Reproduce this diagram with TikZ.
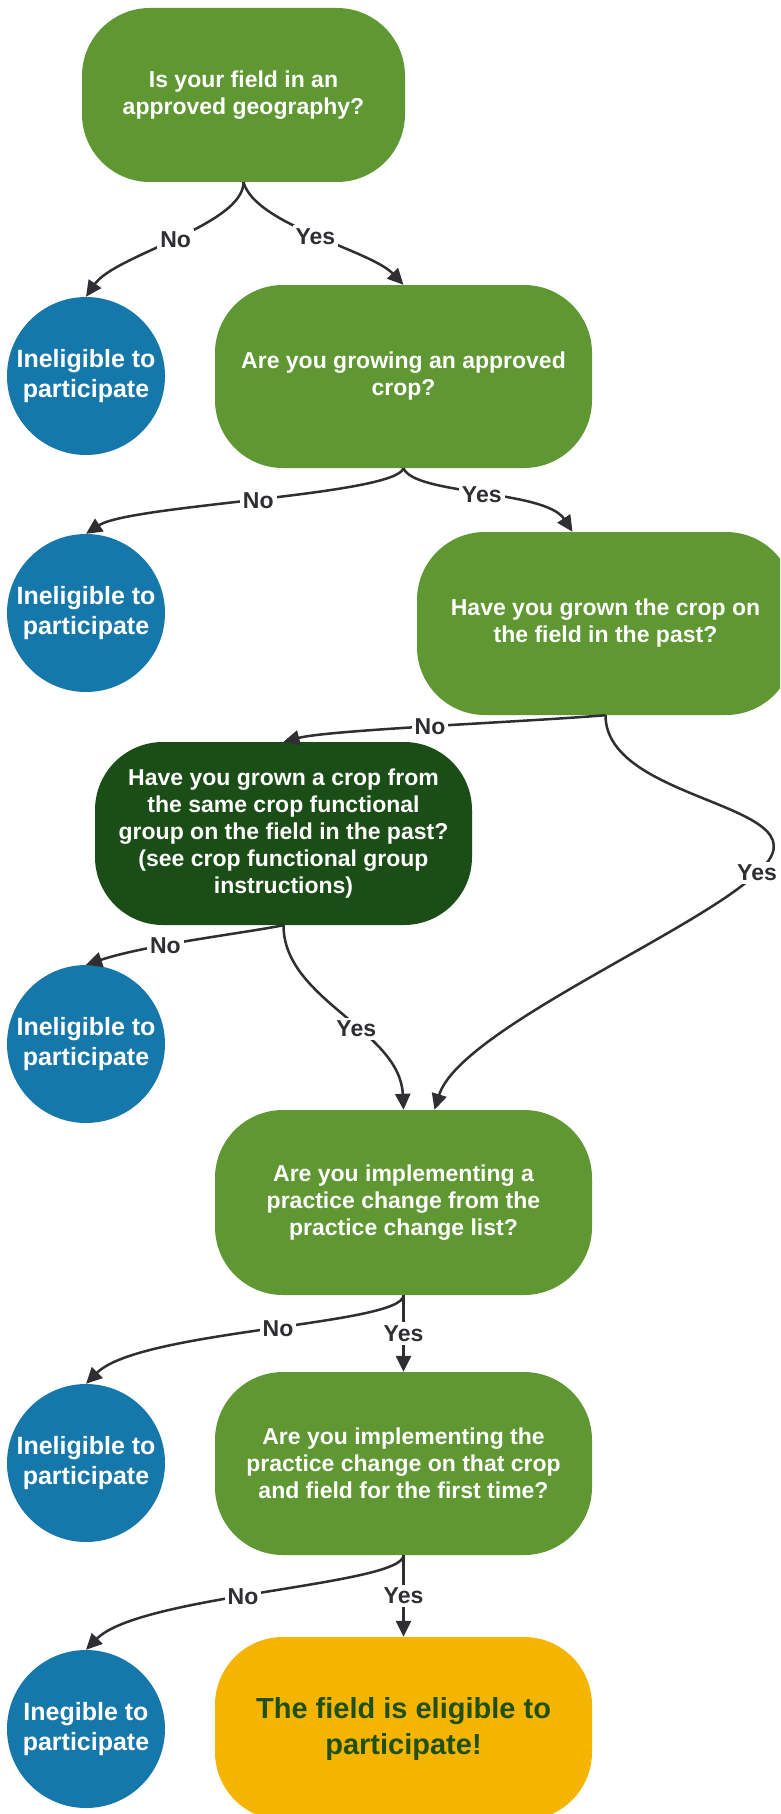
\documentclass[tikz,border=0pt]{standalone}
\usepackage{fontspec}
\setmainfont{Liberation Sans}
\usetikzlibrary{arrows.meta}
\definecolor{qgreen}{HTML}{5F9732}
\definecolor{qdark}{HTML}{1B4D16}
\definecolor{qblue}{HTML}{1678AA}
\definecolor{qyellow}{HTML}{F5B400}
\definecolor{qgtext}{HTML}{1E5014}
\definecolor{lcol}{HTML}{2E2E33}
\begin{document}
\begin{tikzpicture}[x=1pt,y=-1pt,
  qbox/.style={rectangle, rounded corners=68pt, fill=qgreen, text=white,
    font=\bfseries\fontsize{23}{27}\selectfont, align=center,
    minimum width=377pt, minimum height=183pt, inner sep=0pt},
  endbox/.style={qbox, fill=qyellow, text=qgtext, font=\bfseries\fontsize{29}{36}\selectfont},
  outcircle/.style={circle, fill=qblue, text=white, minimum size=158pt, inner sep=0pt,
    align=center, font=\bfseries\fontsize{25}{30}\selectfont},
  conn/.style={draw=lcol, line width=2.5pt, -{Triangle[length=16pt,width=15pt]}},
  lbl/.style={fill=white, inner sep=3pt, text=lcol, font=\bfseries\fontsize{23}{27}\selectfont}]
\clip (0,0) rectangle (780,1814);
\fill[white] (0,0) rectangle (780,1814);

% question nodes
\node[qbox, minimum width=323pt, minimum height=174pt] (A) at (243.5,95) {Is your field in an\\approved geography?};
\node[qbox] (B) at (403.5,376.5) {Are you growing an approved\\crop?};
\node[qbox] (C) at (605.5,623.5) {Have you grown the crop on\\the field in the past?};
\node[qbox, fill=qdark] (D) at (283.5,833.5) {Have you grown a crop from\\the same crop functional\\group on the field in the past?\\(see crop functional group\\instructions)};
\node[qbox, minimum height=185pt] (E) at (403.5,1202.5) {Are you implementing a\\practice change from the\\practice change list?};
\node[qbox] (F) at (403.5,1463.5) {Are you implementing the\\practice change on that crop\\and field for the first time?};
\node[endbox] (G) at (403.5,1728.5) {The field is eligible to\\participate!};

% outcome circles
\node[outcircle] (c1) at (86,376) {Ineligible to\\participate};
\node[outcircle] (c2) at (86,613) {Ineligible to\\participate};
\node[outcircle] (c3) at (86,1044) {Ineligible to\\participate};
\node[outcircle] (c4) at (86,1463) {Ineligible to\\participate};
\node[outcircle] (c5) at (86,1729) {Inegible to\\participate};

\coordinate (yc) at (757,873);

% connectors
\draw[conn] (A.south) .. controls +(0,43) and +(29,-42) .. node[lbl, pos=0.5]{No} (c1.north);
\draw[conn] (A.south) .. controls +(12,43) and +(-33.5,-35) .. node[lbl, pos=0.5]{Yes} (B.north);

\draw[conn] (B.south) .. controls +(-8,27) and +(44,-29) .. node[lbl, pos=0.5]{No} (c2.north);
\draw[conn] (B.south) .. controls +(11,27) and +(-27.5,-42) .. node[lbl, pos=0.5]{Yes} ([xshift=-33pt]C.north);

\draw[conn] (C.south) .. controls +(-85,7) and +(46.5,-12) .. node[lbl, pos=0.5]{No} (D.north);
\draw[conn] (C.south) .. controls +(0,90) and +(80,-70) .. (yc)
  .. controls +(-60,58) and +(25,-80) .. ([xshift=31pt]E.north);
\node[lbl] (yesC) at (yc) {Yes};

\draw[conn] (D.south) .. controls +(-40,8) and +(60,-20) .. node[lbl, pos=0.62]{No} (c3.north);
\draw[conn] (D.south) .. controls +(0,75) and +(-3.5,-80) .. node[lbl, pos=0.58]{Yes} (E.north);

\draw[conn] (E.south) .. controls +(0,30) and +(54,-54) .. node[lbl, pos=0.47]{No} (c4.north);
\draw[conn] (E.south) -- node[lbl]{Yes} (F.north);

\draw[conn] (F.south) .. controls +(0,30) and +(54,-55) .. node[lbl, pos=0.55]{No} (c5.north);
\draw[conn] (F.south) -- node[lbl]{Yes} (G.north);
\end{tikzpicture}
\end{document}
